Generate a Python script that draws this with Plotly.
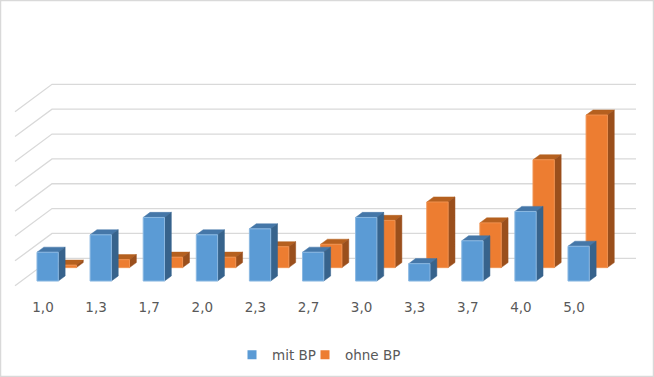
import plotly.graph_objects as go

categories = ["1,0", "1,3", "1,7", "2,0", "2,3", "2,7", "3,0", "3,3", "3,7", "4,0", "5,0"]
mit_bp = [5.8, 9.3, 12.8, 9.3, 10.5, 5.8, 12.8, 3.5, 8.1, 14.0, 7.0]
ohne_bp = [0.5, 1.6, 2.1, 2.1, 4.2, 4.7, 9.5, 13.2, 9.0, 21.7, 30.7]
grid_values = [0, 5, 10, 15, 20, 25, 30, 35]

W, H = 654, 377
BOTTOM = 80
PX_X = 53.1
PX_Y = 4.97
X0_PX = 43
Y0_PX = 285.7
DX = 37 / PX_X        # depth 1 in category units
DY = 27.4 / PX_Y      # depth 1 in percent units
BAR_W = 21.3 / PX_X
BAR_D = 0.185
BAR_X = -12.3 / PX_X
GRID_L = (15 - X0_PX) / PX_X
GRID_R = (636 - X0_PX) / PX_X


def proj(x, v, d):
    return x + d * DX, v + d * DY


def faces(vals, d):
    out = {"top": ([], []), "side": ([], []), "front": ([], [])}
    for i, v in enumerate(vals):
        l, r = i + BAR_X, i + BAR_X + BAR_W
        polys = {
            "front": [(l, 0, d), (r, 0, d), (r, v, d), (l, v, d), (l, 0, d)],
            "side": [(r, 0, d), (r, 0, d + BAR_D), (r, v, d + BAR_D), (r, v, d), (r, 0, d)],
            "top": [(l, v, d), (r, v, d), (r, v, d + BAR_D), (l, v, d + BAR_D), (l, v, d)],
        }
        for k, pts in polys.items():
            for p in pts:
                X, Y = proj(*p)
                out[k][0].append(X)
                out[k][1].append(Y)
            out[k][0].append(None)
            out[k][1].append(None)
    return out


fig = go.Figure()

gx, gy = [], []
for g in grid_values:
    for p in [(GRID_L, g, 0), (GRID_L, g, 1), (GRID_R - DX, g, 1)]:
        X, Y = proj(*p)
        gx.append(X)
        gy.append(Y)
    gx.append(None)
    gy.append(None)
fig.add_trace(go.Scatter(x=gx, y=gy, mode="lines", line=dict(color="#D9D9D9", width=1.3),
                         showlegend=False, hoverinfo="skip"))

series = [
    (ohne_bp, 0.66, {"top": "#B5601F", "side": "#9A4F1C", "front": "#ED7D31"}, "#F0914F"),
    (mit_bp, 0.17, {"top": "#4577A8", "side": "#37638C", "front": "#5B9BD5"}, "#8AB8E2"),
]
for vals, d, cols, edge in series:
    f = faces(vals, d)
    for k in ["top", "side", "front"]:
        fig.add_trace(go.Scatter(
            x=f[k][0], y=f[k][1], mode="lines", fill="toself", fillcolor=cols[k],
            line=dict(color=edge if k == "front" else cols[k], width=1 if k == "front" else 0.5),
            showlegend=False, hoverinfo="skip"))

for name, col, lg in [("mit BP", "#5B9BD5", "legend"), ("ohne BP", "#ED7D31", "legend2")]:
    fig.add_trace(go.Scatter(x=[None], y=[None], mode="markers", name=name, legend=lg,
                             marker=dict(symbol="square", size=9, color=col)))

plot_h = H - BOTTOM
leg_common = dict(orientation="h", xanchor="left", y=-(355 - plot_h) / plot_h, yanchor="middle",
                  font=dict(size=13.5, color="#595959"), bgcolor="rgba(0,0,0,0)", itemwidth=30)
fig.update_layout(
    width=W, height=H, autosize=False,
    margin=dict(l=0, r=0, t=0, b=BOTTOM),
    paper_bgcolor="white", plot_bgcolor="white",
    font=dict(family="DejaVu Sans", size=13.5, color="#595959"),
    xaxis=dict(range=[(0 - X0_PX) / PX_X, (W - X0_PX) / PX_X], tickmode="array",
               tickvals=list(range(len(categories))), ticktext=categories,
               showgrid=False, zeroline=False, showline=False, ticks="", ticklen=0, fixedrange=True),
    yaxis=dict(range=[(Y0_PX - plot_h) / PX_Y, Y0_PX / PX_Y], visible=False, fixedrange=True),
    legend=dict(x=232 / W, **leg_common),
    legend2=dict(x=305 / W, **leg_common),
    shapes=[dict(type="rect", xref="paper", yref="paper", x0=0, x1=1, y0=-BOTTOM / plot_h, y1=1,
                 line=dict(color="#D9D9D9", width=2.5), fillcolor="rgba(0,0,0,0)", layer="below")],
)
fig.write_html("out.html", config={"displayModeBar": False},
               post_script="document.body.style.margin='0';document.body.style.overflow='hidden';")
